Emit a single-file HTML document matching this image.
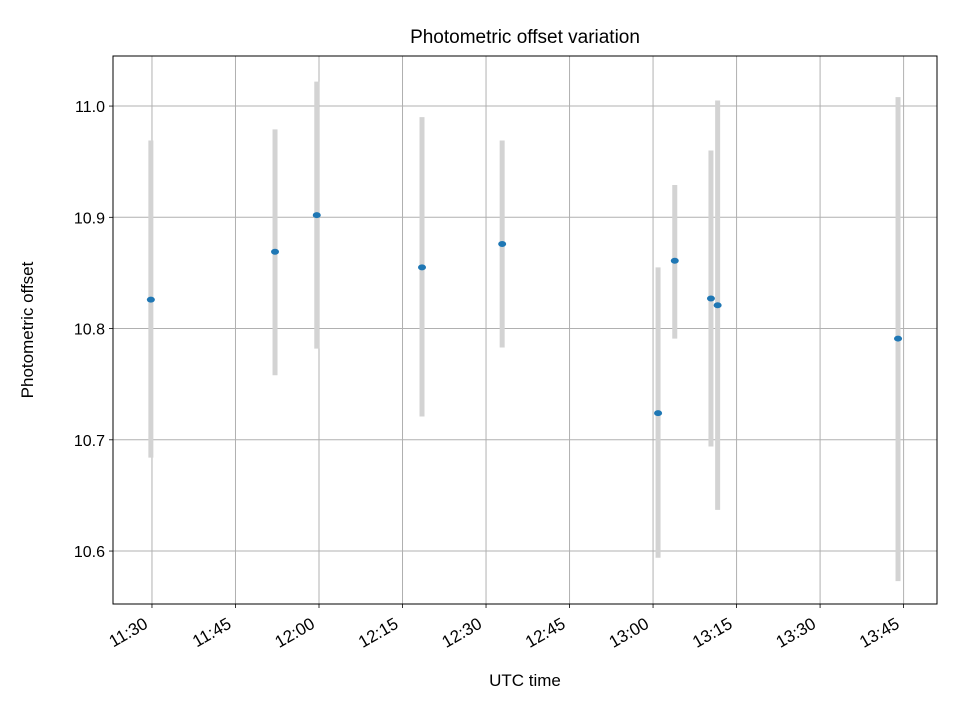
<!DOCTYPE html>
<html><head><meta charset="utf-8"><style>
body{margin:0;background:#fff;}
svg text{font-family:"Liberation Sans","DejaVu Sans",sans-serif;}
</style></head><body>
<svg id="chart" width="960" height="720" xmlns="http://www.w3.org/2000/svg"></svg>
<script>
const times = ["11:29.8","11:52.1","11:59.6","12:18.5","12:32.9","13:00.9","13:03.9","13:10.4","13:11.6","13:44.0"];
const offsets = [10.826,10.869,10.902,10.855,10.876,10.724,10.861,10.827,10.821,10.791];
const errLow = [10.684,10.758,10.782,10.721,10.783,10.594,10.791,10.694,10.637,10.573];
const errHigh = [10.969,10.979,11.022,10.990,10.969,10.855,10.929,10.960,11.005,11.008];
const xTicks = ["11:30","11:45","12:00","12:15","12:30","12:45","13:00","13:15","13:30","13:45"];
const yTicks = [10.6,10.7,10.8,10.9,11.0];

const L=113,R=937,T=56,B=604;
const xMin=11*60+23.0, xMax=13*60+51.0, yMin=10.5524, yMax=11.045;
function toMin(s){const [h,m]=s.split(":");return +h*60+parseFloat(m);}
const xs=v=>L+(toMin(v)-xMin)/(xMax-xMin)*(R-L);
const ys=v=>B-(v-yMin)/(yMax-yMin)*(B-T);
const svg=document.getElementById('chart');
const NS="http://www.w3.org/2000/svg";
function mk(tag,attrs,txt){const e=document.createElementNS(NS,tag);for(const k in attrs)e.setAttribute(k,attrs[k]);if(txt!==undefined)e.textContent=txt;svg.appendChild(e);return e;}

let e=mk('rect',{x:L,y:T,width:R-L,height:B-T,fill:'#fff'});



xTicks.forEach(t=>{const x=xs(t);
 let g=mk('line',{x1:x,x2:x,y1:T,y2:B,stroke:'#b0b0b0','stroke-width':1});
 
 
 mk('line',{x1:x,x2:x,y1:B,y2:B+4,stroke:'#000','stroke-width':0.8});
 const ax=x-3, ay=B+23;
 let lb=mk('text',{x:ax,y:ay,'font-size':17,'text-anchor':'end',transform:`rotate(-30 ${ax} ${ay})`},t);
 
 
});
yTicks.forEach(v=>{const y=ys(v);
 let g=mk('line',{x1:L,x2:R,y1:y,y2:y,stroke:'#b0b0b0','stroke-width':1});
 
 
 mk('line',{x1:L-4,x2:L,y1:y,y2:y,stroke:'#000','stroke-width':0.8});
 let lb=mk('text',{x:L-8,y:y+6,'font-size':16,'text-anchor':'end'},v.toFixed(1));
 
 
});
times.forEach((t,i)=>{const x=xs(t);
 let b=mk('line',{x1:x,x2:x,y1:ys(errHigh[i]),y2:ys(errLow[i]),stroke:'#d3d3d3','stroke-width':5});
 
 
});
times.forEach((t,i)=>{
 let p=mk('ellipse',{cx:xs(t),cy:ys(offsets[i]),rx:4,ry:3,fill:'#1f77b4'});
 
 
});
e=mk('rect',{x:L,y:T,width:R-L,height:B-T,fill:'none',stroke:'#000','stroke-width':1});


e=mk('text',{x:(L+R)/2,y:43,'font-size':19,'text-anchor':'middle'},'Photometric offset variation');


e=mk('text',{x:(L+R)/2,y:686,'font-size':17,'text-anchor':'middle'},'UTC time');


e=mk('text',{x:33,y:330,'font-size':17,'text-anchor':'middle',transform:'rotate(-90 33 330)'},'Photometric offset');


</script>
</body></html>
